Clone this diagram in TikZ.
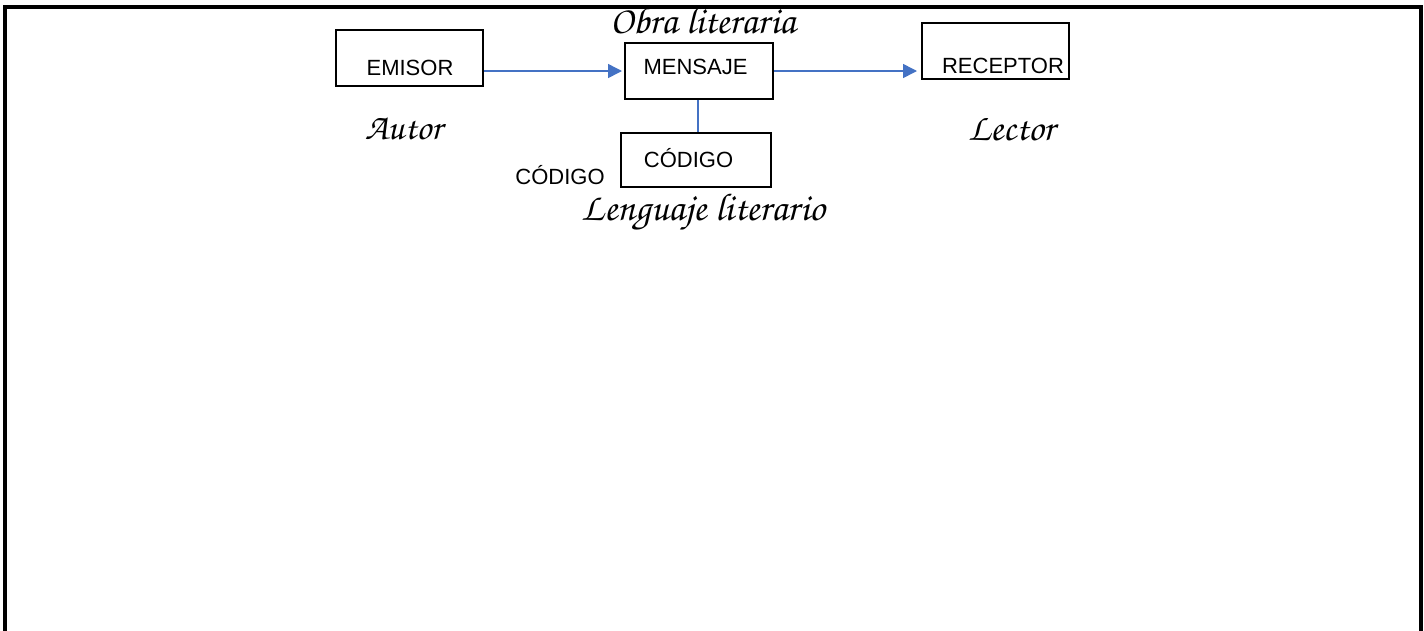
\documentclass[tikz,border=0pt]{standalone}
\usepackage{fontspec}
\setmainfont{Liberation Sans}
\newfontfamily\scriptf{texgyrechorus-mediumitalic.otf}
\usetikzlibrary{arrows.meta}
\definecolor{arrowblue}{HTML}{4472C4}
\begin{document}
\begin{tikzpicture}[x=1pt,y=-1pt,
  box/.style={draw=black, line width=1.6pt, inner sep=0pt, rectangle},
  lab/.style={font=\fontsize{22}{24}\selectfont, inner sep=0pt, anchor=base},
  scr/.style={inner sep=0pt, anchor=base},
  flow/.style={draw=arrowblue, line width=1.5pt, -{Triangle[length=14pt,width=14pt]}},
  link/.style={draw=arrowblue, line width=1.5pt},
  framebar/.style={line width=4pt, draw=black}]
\useasboundingbox (0,0) rectangle (1424,630);
\draw[framebar] (5,632) -- (5,7) -- (1421,7) -- (1421,632);
% boxes
\node[box, line width=1.3pt, minimum width=147pt, minimum height=56pt] (emisor) at (409.5,58) {};
\node[box, line width=2pt, minimum width=148pt, minimum height=56pt] (mensaje) at (699,71) {};
\node[box, line width=2pt, minimum width=147pt, minimum height=56pt] (receptor) at (995.5,51) {};
\node[box, line width=1.5pt, minimum width=150pt, minimum height=54pt] (codigo) at (696,160) {};
% box texts
\node[lab] (temisor) at (410,75) {EMISOR};
\node[lab] (tmensaje) at (695.5,74) {MENSAJE};
\node[lab] (treceptor) at (1003,73) {RECEPTOR};
\node[lab] (tcodigo) at (688.5,167) {CÓDIGO};
\node[lab] (tcodigo2) at (560,184) {CÓDIGO};
% script labels
\node[scr] (obra) at (703,33) {\resizebox{185pt}{!}{\scriptf Obra literaria}};
\node[scr] (autor) at (403.5,139) {\resizebox{77pt}{!}{\scriptf Autor}};
\node[scr] (lector) at (1011.5,140) {\resizebox{87pt}{!}{\scriptf Lector}};
\node[scr] (lenguaje) at (703.5,220) {\resizebox{243pt}{!}{\scriptf Lenguaje literario}};
% connectors
\draw[flow] (emisor.east |- mensaje.west) -- ([xshift=-2pt]mensaje.west);
\draw[flow] (mensaje.east) -- ([xshift=-4pt]mensaje.east -| receptor.west);
\draw[link] ([xshift=-1pt]mensaje.south) -- ([xshift=-1pt]mensaje.south |- codigo.north);
\end{tikzpicture}
\end{document}
